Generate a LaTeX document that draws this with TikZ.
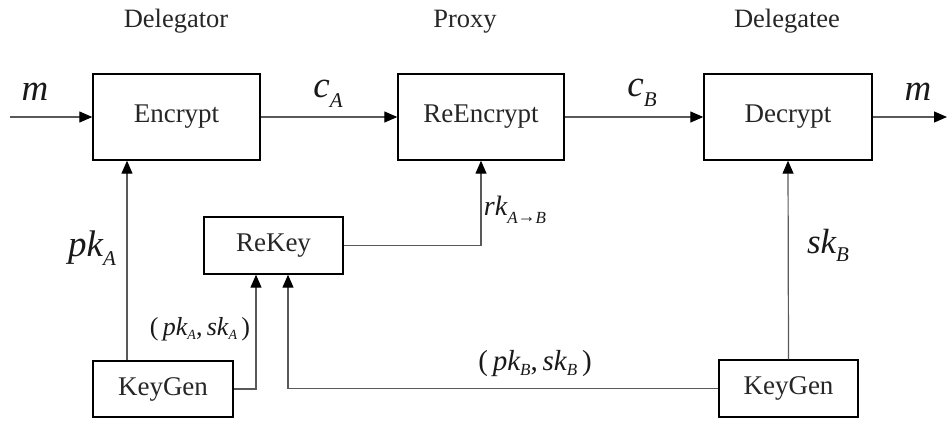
\documentclass[tikz,border=0pt]{standalone}
\usepackage{fontspec}
\setmainfont{Liberation Serif}
\usetikzlibrary{arrows.meta}

% italic symbol with a lowered italic subscript
\newcommand\symb[5]{{\fontsize{#1}{#1}\selectfont\itshape #3}\raisebox{-#5}{\fontsize{#2}{#2}\selectfont\itshape #4}}

\begin{document}
\begin{tikzpicture}[x=1pt,y=-1pt,
  blk/.style={draw=black,line width=1.4pt,rectangle,inner sep=0pt,
    font=\fontsize{27}{27}\selectfont,text=black!85},
  wire/.style={draw=black!65,line width=1.2pt,
    -{Triangle[length=13pt,width=11pt,color=black]}},
  head/.style={font=\fontsize{26.5}{26.5}\selectfont,text=black!85,anchor=base},
  lbl/.style={anchor=base,inner sep=0pt,text=black!90}]
\useasboundingbox (0,0) rectangle (947,421);

% column headings
\node[head] (hA) at (176,27) {Delegator};
\node[head] (hP) at (465,27) {Proxy};
\node[head] (hB) at (787,27) {Delegatee};

% processing blocks
\node[blk,minimum width=167pt,minimum height=86pt] (enc) at (176.5,117) {Encrypt};
\node[blk,minimum width=166pt,minimum height=86pt] (reenc) at (481,117) {ReEncrypt};
\node[blk,minimum width=168pt,minimum height=86pt] (dec) at (788,117) {Decrypt};
\node[blk,minimum width=139pt,minimum height=57pt] (rekey) at (273.5,245.5) {ReKey};
\node[blk,minimum width=140pt,minimum height=56pt] (kgA) at (163,389) {KeyGen};
\node[blk,minimum width=139pt,minimum height=57pt] (kgB) at (788.5,388.5) {KeyGen};

% free ends and bend columns
\coordinate (min) at (10,117);
\coordinate (mout) at (947,117);
\coordinate (pA) at (127,0);
\coordinate (kA) at (256,0);
\coordinate (kB) at (288,0);

% message path
\draw[wire] (min) -- (enc.west);
\draw[wire] (enc.east) -- (reenc.west);
\draw[wire] (reenc.east) -- (dec.west);
\draw[wire] (dec.east) -- (mout);

% key paths
\draw[wire] (kgA.north -| pA) -- (enc.south -| pA);
\draw[wire] (kgA.east) -| (rekey.south -| kA);
\draw[wire] (kgB.west) -| (rekey.south -| kB);
\draw[wire] (rekey.east) -| (reenc.south);
\draw[wire] (kgB.north) -- (dec.south);

% labels
\node[lbl] (lm1) at (35,100) {\symb{37}{20}{m}{}{0pt}};
\node[lbl] (lcA) at (328,97) {\symb{37}{21}{c}{A}{10pt}};
\node[lbl] (lcB) at (642,96) {\symb{37}{21}{c}{B}{10pt}};
\node[lbl] (lm2) at (918,100) {\symb{37}{20}{m}{}{0pt}};
\node[lbl] (lpkA) at (92,256) {\symb{37}{21}{pk}{A}{9pt}};
\node[lbl] (lskB) at (828,253) {\symb{35}{21}{sk}{B}{8pt}};
\node[lbl] (lrk) at (515,215) {\symb{28}{17}{rk}{A\raisebox{0.5pt}{\upshape\fontsize{18}{18}\selectfont→}B}{8pt}};
\node[lbl] (lpsA) at (200,335) {{\fontsize{26}{26}\selectfont(\,}\symb{26}{14}{pk}{A}{4pt}{\fontsize{26}{26}\selectfont,\,}\symb{26}{14}{sk}{A}{4pt}{\fontsize{26}{26}\selectfont\,)}};
\node[lbl] (lpsB) at (535,370) {{\fontsize{29}{29}\selectfont(\,}\symb{29}{17}{pk}{B}{5pt}{\fontsize{29}{29}\selectfont,\,}\symb{29}{17}{sk}{B}{5pt}{\fontsize{29}{29}\selectfont\,)}};
\end{tikzpicture}
\end{document}
